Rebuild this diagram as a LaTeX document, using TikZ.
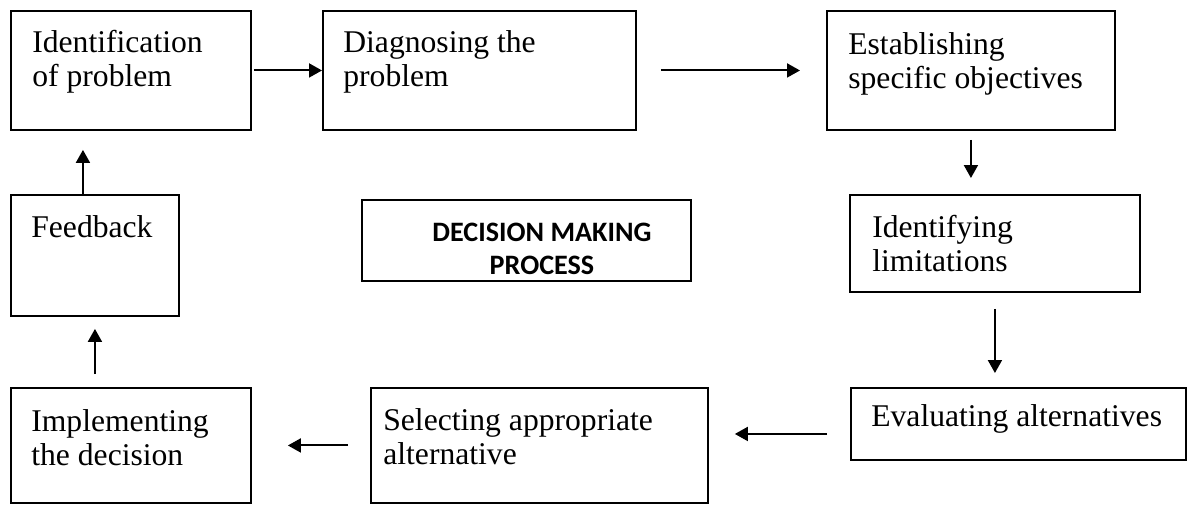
\documentclass[tikz,border=0pt]{standalone}
\usepackage{fontspec}
\setmainfont{Liberation Serif}
\newfontfamily\calibri{Carlito}
\usetikzlibrary{arrows.meta}

\tikzset{
  box/.style={draw, line width=1.1pt, anchor=north west, inner sep=0pt},
  txt/.style={anchor=north west, inner sep=0pt, align=left, font=\fontsize{18}{19.4}\selectfont},
  ctr/.style={inner sep=0pt, align=center, font=\calibri\bfseries\fontsize{16}{18.8}\selectfont},
  arr/.style={line width=1.1pt, -{Triangle[length=0.26cm, width=0.28cm]}},
}

\begin{document}
\begin{tikzpicture}[x=0.02cm, y=-0.02cm]
	\useasboundingbox (0,0) rectangle (1187,504);

	% top row
	\node (ident) at (10,10) [box, minimum width=4.8cm, minimum height=2.38cm,
		label={[txt, xshift=0.44cm, yshift=-0.4cm]north west:{Identification\\of problem}}] {};
	\node (diag) at (322,10) [box, minimum width=6.26cm, minimum height=2.38cm,
		label={[txt, xshift=0.42cm, yshift=-0.4cm]north west:{Diagnosing the\\problem}}] {};
	\node (estab) at (826,10) [box, minimum width=5.76cm, minimum height=2.38cm,
		label={[txt, xshift=0.44cm, yshift=-0.44cm]north west:{Establishing\\specific objectives}}] {};

	% middle row
	\node (fb) at (10,194) [box, minimum width=3.36cm, minimum height=2.42cm,
		label={[txt, xshift=0.42cm, yshift=-0.42cm]north west:Feedback}] {};
	\node (title) at (361,199) [box, minimum width=6.58cm, minimum height=1.62cm,
		label={[ctr, xshift=0.31cm, yshift=-0.16cm]center:{DECISION MAKING\\PROCESS}}] {};
	\node (limit) at (849,194) [box, minimum width=5.8cm, minimum height=1.94cm,
		label={[txt, xshift=0.46cm, yshift=-0.42cm]north west:{Identifying\\limitations}}] {};

	% bottom row
	\node (impl) at (10,387) [box, minimum width=4.8cm, minimum height=2.3cm,
		label={[txt, xshift=0.42cm, yshift=-0.44cm]north west:{Implementing\\the decision}}] {};
	\node (select) at (370,387) [box, minimum width=6.74cm, minimum height=2.3cm,
		label={[txt, xshift=0.26cm, yshift=-0.42cm]north west:{Selecting appropriate\\alternative}}] {};
	\node (eval) at (850,387) [box, minimum width=6.7cm, minimum height=1.44cm,
		label={[txt, xshift=0.42cm, yshift=-0.34cm]north west:Evaluating alternatives}] {};

	\draw
	(ident) edge[arr, shorten <=0.04cm] (diag)
	(diag) edge[arr, shorten <=0.48cm, shorten >=0.52cm] (estab)
	(estab.south) edge[arr, shorten <=0.18cm, shorten >=0.32cm] (estab.south |- limit.north)
	(limit.south) edge[arr, shorten <=0.32cm, shorten >=0.28cm] (limit.south |- eval.north)
	([yshift=-0.2cm]eval.west) edge[arr, shorten <=0.46cm, shorten >=0.52cm] ([yshift=-0.2cm]eval.west -| select.east)
	(select) edge[arr, shorten <=0.44cm, shorten >=0.72cm] (impl)
	(fb.south |- impl.north) edge[arr, shorten <=0.26cm, shorten >=0.24cm] (fb.south)
	([xshift=-0.24cm]fb.north) edge[arr, shorten >=0.38cm] ([xshift=-0.24cm]fb.north |- ident.south)
	;
\end{tikzpicture}
\end{document}
